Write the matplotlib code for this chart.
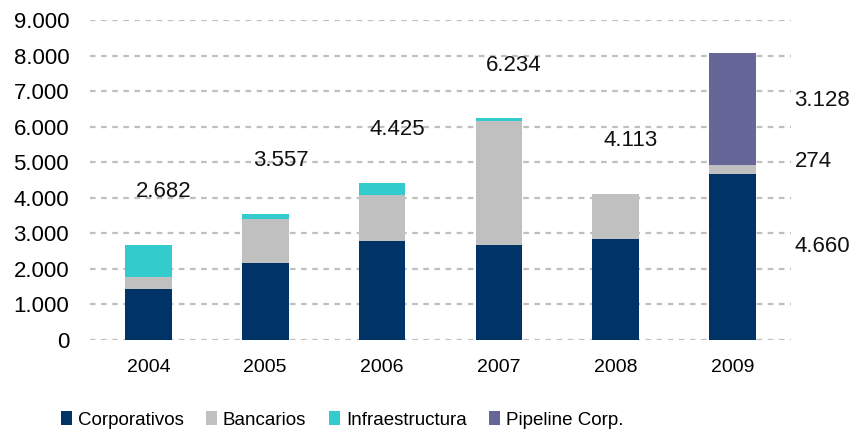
import matplotlib
matplotlib.use("Agg")
import matplotlib.pyplot as plt
import numpy as np

# datos
anos = ['2004', '2005', '2006', '2007', '2008', '2009']
corporativos = [1430, 2160, 2780, 2670, 2840, 4660]
bancarios = [340, 1240, 1300, 3480, 1273, 274]
infraestructura = [912, 157, 345, 84, 0, 0]
pipeline = [0, 0, 0, 0, 0, 3128]
totales = ['2.682', '3.557', '4.425', '6.234', '4.113']
etiquetas_2009 = ['4.660', '274', '3.128']

series = ['Corporativos', 'Bancarios', 'Infraestructura', 'Pipeline Corp.']
colores = ['#003366', '#C0C0C0', '#33CCCC', '#666699']

plt.rcParams['font.family'] = ['Liberation Sans', 'DejaVu Sans']

fig = plt.figure(figsize=(8.59, 4.33), dpi=100)
ax = fig.add_axes([90/859, 1-340/433, 701/859, 320/433])

x = np.arange(len(anos))
base = np.zeros(len(anos))
for datos, nom, col in zip([corporativos, bancarios, infraestructura, pipeline], series, colores):
    ax.bar(x, datos, 0.4, bottom=base, color=col, label=nom, zorder=3)
    base = base + np.array(datos)

# totales encima de las barras
for i, t in enumerate(totales):
    ax.text(x[i] + 0.13, base[i] + 1500, t, ha='center', va='center', fontsize=16, color='#111111')

# etiquetas de 2009 a la derecha
pos_y = [2620, 5010, 6730]
for t, yy in zip(etiquetas_2009, pos_y):
    ax.text(x[5] + 0.53, yy, t, ha='left', va='center', fontsize=16, color='#111111')

ax.set_xlim(-0.5, 5.5)
ax.set_ylim(0, 9000)
ax.set_yticks(range(0, 9001, 1000))
ax.set_yticklabels(['0'] + ['{}.000'.format(k) for k in range(1, 10)], fontsize=16)
ax.set_xticks(x)
ax.set_xticklabels(anos, fontsize=14)
ax.tick_params(length=0)
ax.tick_params(axis='y', pad=15)
ax.tick_params(axis='x', pad=14)
ax.grid(axis='y', color='#BFBFBF', linestyle=(0, (2.5, 2.5)), linewidth=1.6, zorder=0)
ax.set_axisbelow(True)
for s in ax.spines.values():
    s.set_visible(False)

fig.legend(loc='center left', bbox_to_anchor=(44/859, 1-420/433), ncol=4, frameon=False,
           fontsize=13.5, handlelength=0.6, handleheight=0.75,
           handletextpad=0.3, columnspacing=1.2)

plt.savefig('out.png', dpi=100)
